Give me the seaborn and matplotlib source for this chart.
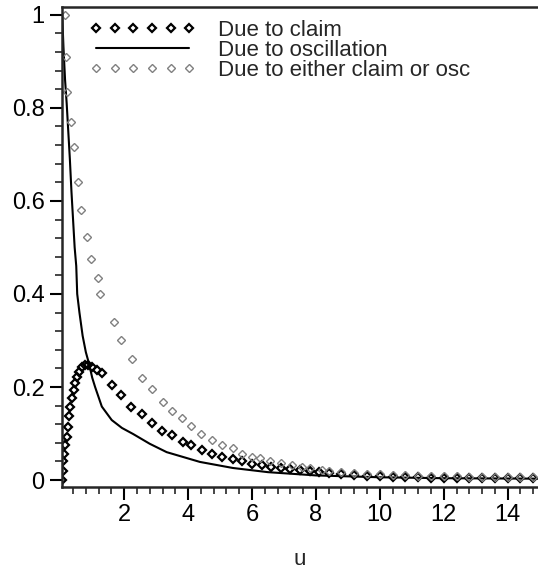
import matplotlib
matplotlib.use("Agg")
import matplotlib.pyplot as plt
from matplotlib.ticker import MultipleLocator, FuncFormatter
import seaborn as sns

# ruin probability due to claim (black diamonds)
u_claim = [0.05, 0.07, 0.1, 0.12, 0.16, 0.21, 0.24, 0.28, 0.31, 0.36, 0.42, 0.47,
           0.52, 0.59, 0.68, 0.78, 0.88, 0.99, 1.15, 1.3, 1.61, 1.9, 2.22, 2.57,
           2.86, 3.18, 3.5, 3.83, 4.1, 4.43, 4.75, 5.05, 5.4, 5.7, 6.0, 6.3, 6.6,
           6.9, 7.2, 7.5, 7.8, 8.1, 8.4, 8.8, 9.2, 9.6, 10.0, 10.4, 10.8, 11.2,
           11.6, 12.0, 12.4, 12.8, 13.2, 13.6, 14.0, 14.4, 14.8]
claim = [0.0, 0.02, 0.04, 0.057, 0.075, 0.093, 0.115, 0.138, 0.158, 0.176, 0.194,
         0.208, 0.222, 0.233, 0.243, 0.247, 0.247, 0.244, 0.237, 0.23, 0.204,
         0.183, 0.158, 0.142, 0.122, 0.105, 0.097, 0.082, 0.075, 0.065, 0.057,
         0.05, 0.045, 0.04, 0.035, 0.032, 0.029, 0.026, 0.023, 0.021, 0.019,
         0.017, 0.015, 0.013, 0.011, 0.009, 0.008, 0.007, 0.0065, 0.006, 0.0055,
         0.005, 0.005, 0.0045, 0.0045, 0.004, 0.004, 0.004, 0.004]

# ruin probability due to oscillation (solid line)
u_osc = [0.06, 0.1, 0.15, 0.2, 0.25, 0.3, 0.35, 0.4, 0.45, 0.5, 0.53, 0.6, 0.7,
         0.8, 0.9, 1.0, 1.09, 1.3, 1.61, 1.93, 2.28, 2.8, 3.33, 4.37, 5.4, 6.5,
         8.0, 10.0, 12.0, 15.0]
osc = [1.0, 0.93, 0.86, 0.81, 0.75, 0.69, 0.62, 0.56, 0.5, 0.46, 0.4, 0.36, 0.31,
       0.275, 0.25, 0.22, 0.2, 0.158, 0.129, 0.112, 0.099, 0.078, 0.06, 0.039,
       0.026, 0.017, 0.01, 0.006, 0.004, 0.003]

# ruin probability due to either (grey diamonds)
u_either = [0.16, 0.19, 0.22, 0.33, 0.43, 0.54, 0.65, 0.85, 0.96, 1.17, 1.25,
            1.67, 1.9, 2.24, 2.55, 2.86, 3.2, 3.5, 3.8, 4.1, 4.4, 4.75, 5.05,
            5.4, 5.7, 6.0, 6.25, 6.56, 6.9, 7.25, 7.56, 7.8, 8.2, 8.4, 8.8, 9.2,
            9.6, 10.0, 10.4, 10.8, 11.2, 11.6, 12.0, 12.4, 12.8, 13.2, 13.6,
            14.0, 14.4, 14.8]
either = [1.0, 0.91, 0.835, 0.77, 0.716, 0.64, 0.58, 0.523, 0.475, 0.434, 0.40,
          0.34, 0.30, 0.26, 0.22, 0.195, 0.168, 0.149, 0.134, 0.116, 0.10, 0.086,
          0.075, 0.068, 0.057, 0.05, 0.047, 0.04, 0.036, 0.032, 0.028, 0.026,
          0.022, 0.019, 0.017, 0.015, 0.013, 0.012, 0.011, 0.01, 0.0095, 0.009,
          0.008, 0.008, 0.0075, 0.007, 0.007, 0.0065, 0.006, 0.006]

sns.set_style("ticks")
plt.rcParams['font.family'] = ['Liberation Sans', 'DejaVu Sans']

fig = plt.figure(figsize=(5.38, 5.73), dpi=100)
ax = fig.add_axes([0.115, 0.150, 0.885, 0.838])

sns.lineplot(x=u_claim, y=claim, ax=ax, marker='D', linestyle='', color='black',
             markerfacecolor='none', markeredgecolor='black', markersize=4.5,
             markeredgewidth=1.6, label='Due to claim', sort=False)
sns.lineplot(x=u_osc, y=osc, ax=ax, color='black', linewidth=1.5,
             label='Due to oscillation', sort=False)
sns.lineplot(x=u_either, y=either, ax=ax, marker='D', linestyle='', color='#808080',
             markerfacecolor='none', markeredgecolor='#808080', markersize=4.5,
             markeredgewidth=1.0, label='Due to either claim or osc', sort=False)

ax.set_xlim(0.05, 14.95)
ax.set_ylim(-0.015, 1.017)
ax.xaxis.set_major_locator(MultipleLocator(2))
ax.xaxis.set_minor_locator(MultipleLocator(0.4))
ax.yaxis.set_major_locator(MultipleLocator(0.2))
ax.yaxis.set_minor_locator(MultipleLocator(0.04))
ax.yaxis.set_major_formatter(FuncFormatter(lambda v, p: '%g' % round(v, 2)))
ax.tick_params(which='major', length=9, width=1.5, labelsize=17, colors='black')
ax.tick_params(which='minor', length=5, width=1.2)
ax.set_xlabel('u', fontsize=16, labelpad=16)
ax.set_ylabel('')
for side in ['left', 'bottom', 'top']:
    ax.spines[side].set_linewidth(1.8)
ax.spines['right'].set_visible(False)

ax.legend(loc='upper left', bbox_to_anchor=(0.03, 1.0), frameon=False,
          fontsize=16, numpoints=6, handlelength=4.8, handletextpad=1.0,
          labelspacing=-0.05, borderaxespad=0.2)

fig.savefig('out.png', dpi=100)
